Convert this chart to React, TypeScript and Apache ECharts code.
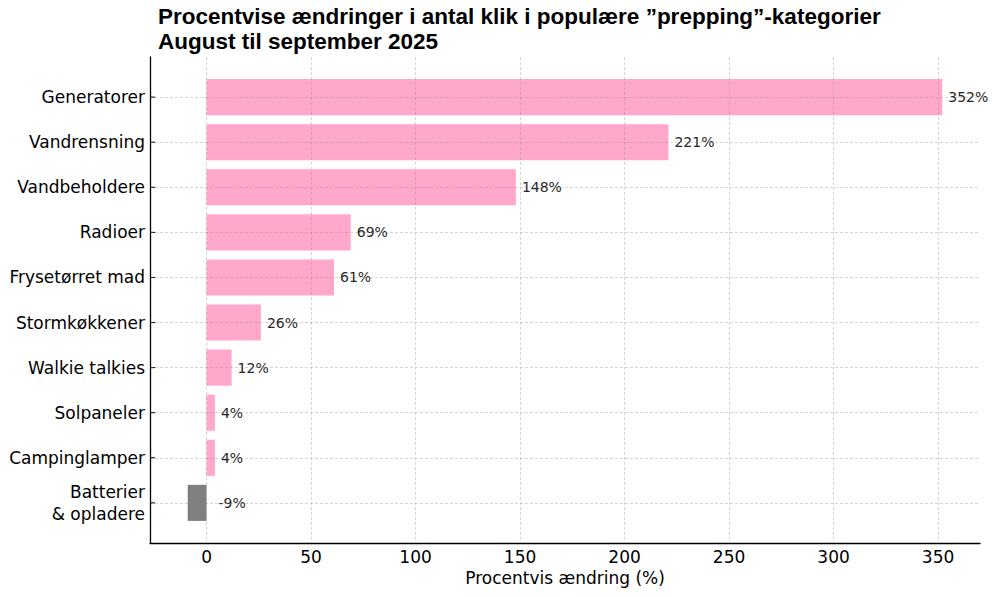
import React, { useEffect, useRef } from "react";
import * as echarts from "echarts";

const categories = [
  "Generatorer",
  "Vandrensning",
  "Vandbeholdere",
  "Radioer",
  "Frysetørret mad",
  "Stormkøkkener",
  "Walkie talkies",
  "Solpaneler",
  "Campinglamper",
  "Batterier\n& opladere",
];
const values = [352, 221, 148, 69, 61, 26, 12, 4, 4, -9];
const valueLabels = ["352%", "221%", "148%", "69%", "61%", "26%", "12%", "4%", "4%", "-9%"];

const TITLE = "Procentvise ændringer i antal klik i populære ”prepping”-kategorier\nAugust til september 2025";
const X_NAME = "Procentvis ændring (%)";

const X_MIN = -27.05;
const X_MAX = 370.05;
const Y_MIN = -0.89;
const Y_MAX = 9.89;

const PINK = "#FFA8CC";
const GREY = "#808080";
const FONT = "DejaVu Sans";

export default function App() {
  const ref = useRef<HTMLDivElement>(null);
  useEffect(() => {
    if (!ref.current) return;
    const chart = echarts.init(ref.current, null, { renderer: "svg" });
    const gridLine = {
      show: true,
      showMinLine: false,
      showMaxLine: false,
      lineStyle: { color: "rgba(128,128,128,0.42)", width: 0.8, type: [3, 2] },
    };
    const option: any = {
      animation: false,
      backgroundColor: "#fff",
      title: {
        text: TITLE,
        left: 153,
        top: -1,
        textStyle: {
          fontFamily: "Liberation Sans",
          fontWeight: "bold",
          fontSize: 22.5,
          lineHeight: 25,
          color: "#000",
        },
      },
      grid: { left: 150, right: 20, top: 57, bottom: 54, containLabel: false },
      xAxis: {
        type: "value",
        min: X_MIN,
        max: X_MAX,
        splitNumber: 8,
        z: 5,
        name: X_NAME,
        nameLocation: "middle",
        nameGap: 25,
        nameTextStyle: { fontFamily: FONT, fontSize: 17, color: "#000" },
        axisLine: { show: true, onZero: false, lineStyle: { color: "#000", width: 1.3 } },
        axisTick: { show: false },
        axisLabel: {
          showMinLabel: false,
          showMaxLabel: false,
          margin: 5,
          fontFamily: FONT,
          fontSize: 17,
          color: "#000",
        },
        splitLine: gridLine,
      },
      yAxis: {
        type: "value",
        inverse: true,
        min: Y_MIN,
        max: Y_MAX,
        splitNumber: 10,
        z: 5,
        axisLine: { show: true, onZero: false, lineStyle: { color: "#000", width: 1.3 } },
        axisTick: { show: false },
        axisLabel: {
          showMinLabel: false,
          showMaxLabel: false,
          margin: 5,
          fontFamily: FONT,
          fontSize: 17,
          lineHeight: 22,
          color: "#000",
          formatter: (v: number) => {
            const i = Math.round(v);
            return Math.abs(v - i) < 1e-6 && categories[i] ? categories[i] : "";
          },
        },
        splitLine: gridLine,
      },
      series: [
        {
          type: "custom",
          z: 2,
          data: values.map((v, i) => [v, i]),
          encode: { x: 0, y: 1 },
          renderItem: (params: any, api: any) => {
            const v = api.value(0);
            const i = api.value(1);
            const start = api.coord([0, i]);
            const end = api.coord([v, i]);
            const left = api.coord([X_MIN, i]);
            const h = api.size([0, 0.8])[1];
            const x0 = Math.min(start[0], end[0]);
            const w = Math.abs(end[0] - start[0]);
            const labelX = v >= 0 ? end[0] + 6 : start[0] + 12;
            return {
              type: "group",
              children: [
                {
                  type: "rect",
                  shape: { x: x0, y: start[1] - h / 2, width: w, height: h },
                  style: { fill: v >= 0 ? PINK : GREY },
                },
                {
                  type: "line",
                  shape: { x1: left[0], y1: start[1], x2: left[0] + 5, y2: start[1] },
                  style: { stroke: "#000", lineWidth: 1 },
                },
                {
                  type: "text",
                  style: {
                    text: valueLabels[i],
                    x: labelX,
                    y: start[1],
                    verticalAlign: "middle",
                    align: "left",
                    fontFamily: FONT,
                    fontSize: 14,
                    fill: "#262626",
                  },
                },
              ],
            };
          },
        },
      ],
    };
    chart.setOption(option);
    return () => chart.dispose();
  }, []);
  return <div ref={ref} style={{ width: 1000, height: 597, position: "absolute", left: 0, top: 0 }} />;
}
